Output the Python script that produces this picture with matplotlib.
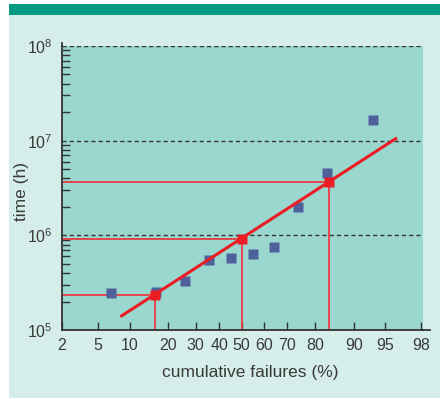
import math
import numpy as np
import matplotlib
matplotlib.use('Agg')
import matplotlib.pyplot as plt
from matplotlib.patches import Rectangle
from matplotlib.ticker import FixedLocator, FixedFormatter, LogLocator, NullFormatter, NullLocator

# data
failures_pct = [6.7, 16.3, 25.8, 35.3, 45.0, 55.0, 64.3, 74.2, 83.7, 93.3]
hours = [2.45e5, 2.5e5, 3.3e5, 5.5e5, 5.75e5, 6.3e5, 7.5e5, 2.0e6, 4.6e6, 1.65e7]

fit_pct = [8.5, 96.1]
fit_hours = [1.41e5, 1.05e7]

mark_pct = [16, 50, 84]
mark_hours = [2.33e5, 9.2e5, 3.7e6]

x_ticks = [2, 5, 10, 20, 30, 40, 50, 60, 70, 80, 90, 95, 98]
y_ticks = [1e5, 1e6, 1e7, 1e8]
y_labels = ['$10^{5}$', '$10^{6}$', '$10^{7}$', '$10^{8}$']

plt.rcParams['font.family'] = ['Liberation Sans', 'DejaVu Sans']
plt.rcParams['mathtext.default'] = 'regular'

# normal probability scale for the x axis
_erf = np.vectorize(math.erf)
_z = np.linspace(-6, 6, 6001)
_cdf = 0.5 * (1 + _erf(_z / math.sqrt(2)))


def prob_fwd(p):
    return np.interp(np.asarray(p, dtype=float) / 100.0, _cdf, _z)


def prob_inv(z):
    return 100.0 * 0.5 * (1 + _erf(np.asarray(z, dtype=float) / math.sqrt(2)))


txt = '#3a3a3a'
red = '#ec1c24'

fig = plt.figure(figsize=(4.4, 3.99), dpi=100)
fig.patch.set_facecolor('white')
fig.patches.append(Rectangle((9 / 440, 1 / 399), 1, 383 / 399, transform=fig.transFigure,
                             facecolor='#d6eeea', edgecolor='none', zorder=-10))
fig.patches.append(Rectangle((9 / 440, 1 - 15 / 399), 1, 11 / 399, transform=fig.transFigure,
                             facecolor='#009a82', edgecolor='none', zorder=-10))

ax = fig.add_axes([62 / 440, 69 / 399, 361 / 440, 284 / 399])
ax.set_zorder(1)
ax.set_facecolor('#9ad7cf')

ax.set_xscale('function', functions=(prob_fwd, prob_inv))
ax.set_yscale('log')
ax.set_xlim(x_ticks[0], 98.1)
ax.set_ylim(y_ticks[0], y_ticks[-1])

# dotted decade lines
for h in y_ticks[1:]:
    ax.axhline(h, xmax=0.997, color='#333333', lw=1, ls=(0, (3, 2.2)), zorder=1)

# guide lines to the 16/50/84 % points
ax.hlines(mark_hours, x_ticks[0], mark_pct, color='#e83a40', lw=1.3, zorder=2)
ax.vlines(mark_pct, y_ticks[0], mark_hours, color='#e83a40', lw=1.3, zorder=2)

ax.plot(failures_pct, hours, 's', color='#50609a', ms=6.5, mec='none', zorder=3)
ax.plot(fit_pct, fit_hours, color=red, lw=2.2, zorder=4)
ax.plot(mark_pct, mark_hours, 's', color=red, ms=6.8, mec='none', zorder=5)

ax.xaxis.set_major_locator(FixedLocator(x_ticks))
ax.xaxis.set_major_formatter(FixedFormatter([str(t) for t in x_ticks]))
ax.xaxis.set_minor_locator(NullLocator())
ax.yaxis.set_major_locator(FixedLocator(y_ticks))
ax.yaxis.set_major_formatter(FixedFormatter(y_labels))
ax.yaxis.set_minor_locator(LogLocator(base=10, subs=np.arange(2, 10)))
ax.yaxis.set_minor_formatter(NullFormatter())

ax.tick_params(axis='x', direction='in', length=6, width=1, color='#333333',
               labelsize=11.5, labelcolor=txt, pad=6)
ax.tick_params(axis='y', which='both', direction='in', length=6, width=1, color='#333333',
               labelsize=11.5, labelcolor=txt, pad=7)
ax.tick_params(axis='y', which='major', length=0)

for s in ['top', 'right']:
    ax.spines[s].set_visible(False)
for s in ['left', 'bottom']:
    ax.spines[s].set_color('#333333')
    ax.spines[s].set_linewidth(1.3)
# spines run a little past the plot area
ax.plot([0, 0], [1, 1.012], transform=ax.transAxes, color='#333333', lw=1.3, clip_on=False)
ax.plot([1, 1.02], [0, 0], transform=ax.transAxes, color='#333333', lw=1.3, clip_on=False)

ax.set_xlabel('cumulative failures (%)', fontsize=12.5, color=txt)
ax.set_ylabel('time (h)', fontsize=12.5, color=txt)
ax.xaxis.set_label_coords(0.521, -0.124)
ax.yaxis.set_label_coords(-0.092, 0.486)

fig.savefig('out.png', dpi=100)
